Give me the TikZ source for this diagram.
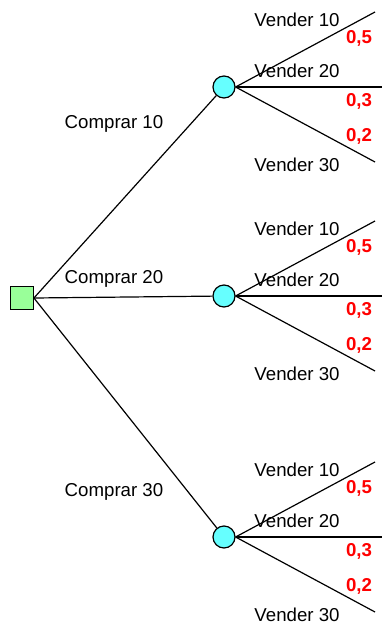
\documentclass[tikz,border=0pt]{standalone}
\usepackage{fontspec}
\setmainfont{Liberation Sans}
\usetikzlibrary{shapes}
\definecolor{boxgreen}{RGB}{153,255,153}
\definecolor{chancecyan}{RGB}{102,255,255}
\tikzset{
  decision/.style={draw, fill=boxgreen, minimum size=17pt, inner sep=0pt},
  chance/.style={draw, circle, fill=chancecyan, minimum size=16.5pt, inner sep=0pt},
  lbl/.style={font=\fontsize{14}{16}\selectfont, inner sep=0pt},
  prob/.style={font=\fontsize{14}{16}\selectfont\bfseries, text=red, inner sep=0pt}
}
\begin{document}
\begin{tikzpicture}[x=0.75pt, y=-0.75pt, line width=0.9pt]
      \useasboundingbox (0,0) rectangle (382,628);

      % decision box and the three chance nodes
      \node[decision] (buy) at (22,298) {};
      \node[chance] (c1) at (224,87) {};
      \node[chance] (c2) at (224,296) {};
      \node[chance] (c3) at (224,537) {};

      \draw (buy.east) -- (c1);
      \draw (buy.east) -- (c2);
      \draw (buy.east) -- (c3);

      \node[lbl] (b1) at (114,124) {Comprar 10};
      \node[lbl] (b2) at (114,279) {Comprar 20};
      \node[lbl] (b3) at (114,492) {Comprar 30};

      % branches of each chance node: 10 (top), 20 (middle), 30 (bottom)
      \foreach \c/\y in {c1/87, c2/296, c3/537} {
        \coordinate (\c-a) at (375,\y-75);
        \coordinate (\c-b) at (382,\y);
        \coordinate (\c-c) at (375,\y+75);
        \draw (\c.east) -- (\c-a);
        \draw (\c.east) -- (\c-b);
        \draw (\c.east) -- (\c-c);

        \node[lbl] (\c-s1) at (297,\y-67) {Vender 10};
        \node[lbl] (\c-s2) at (297,\y-16) {Vender 20};
        \node[lbl] (\c-s3) at (297,\y+78) {Vender 30};

        \node[prob] (\c-p1) at (359,\y-49) {0,5};
        \node[prob] (\c-p2) at (359,\y+14) {0,3};
        \node[prob] (\c-p3) at (359,\y+49) {0,2};
      }

    \end{tikzpicture}
\end{document}
